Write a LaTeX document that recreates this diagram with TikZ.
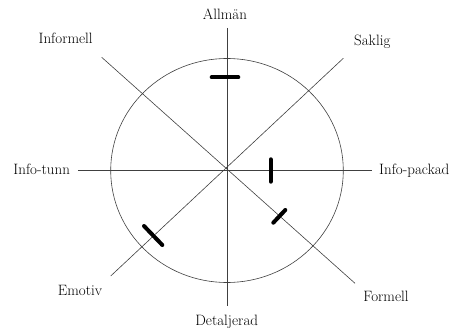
\documentclass[tikz,border=0pt]{standalone}
\usepackage{amsmath}
\usepackage{tikz}

\begin{document}
\begin{tikzpicture}[x=1pt,y=1pt,
  axis/.style={line width=0.6pt,black!75},
  bar/.style={line width=4pt,line cap=round},
  lbl/.style={inner sep=0pt,anchor=base,font=\fontsize{15}{18}\selectfont}]
\useasboundingbox (-227,-158.5) rectangle (227,170.5);
\coordinate (o) at (0,0);
% axes
\coordinate (n) at (0,142.5);
\coordinate (s) at (0,-135.5);
\coordinate (w) at (-149,0);
\coordinate (e) at (145,0);
\coordinate (nw) at (-125.3,113.2);
\coordinate (se) at (128,-112.8);
\coordinate (ne) at (116.3,112.2);
\coordinate (sw) at (-116.3,-105.5);
\draw[axis] (n)--(s);
\draw[axis] (w)--(e);
\draw[axis] (nw)--(se);
\draw[axis] (ne)--(sw);
\draw[axis] (o) ellipse (116.3 and 112);
% bars
\draw[bar] (-15.3,93.2)--(11.3,93.2);
\draw[bar] (43.7,11.2)--(43.7,-11.2);
\draw[bar] (46.3,-52.2)--(58.3,-39.5);
\draw[bar] (-83,-55.5)--(-64.7,-74.5);
% labels
\node[lbl] (allman) at (-2,150.5) {Allmän};
\node[lbl] (informell) at (-161.3,127.2) {Informell};
\node[lbl] (saklig) at (145.3,124.5) {Saklig};
\node[lbl] (tunn) at (-185.3,-3.8) {Info-tunn};
\node[lbl] (packad) at (187.3,-3.8) {Info-packad};
\node[lbl] (emotiv) at (-147,-124.5) {Emotiv};
\node[lbl] (formell) at (159,-131.2) {Formell};
\node[lbl] (detaljerad) at (-0.3,-154.5) {Detaljerad};
\end{tikzpicture}
\end{document}
